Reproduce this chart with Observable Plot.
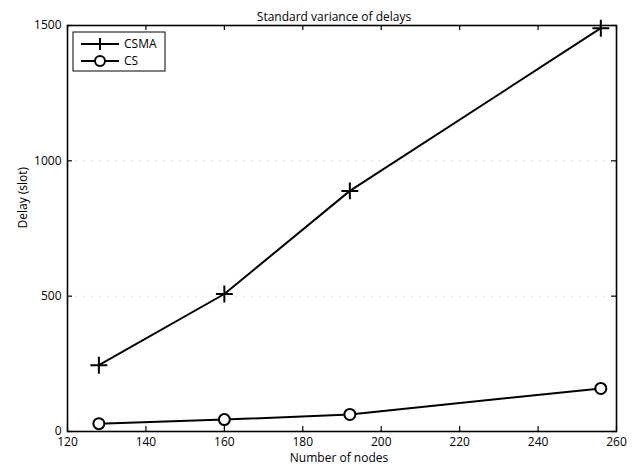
<!DOCTYPE html>
<html><head><meta charset="utf-8">
<script src="https://cdn.jsdelivr.net/npm/d3@7"></script>
<script src="https://cdn.jsdelivr.net/npm/@observablehq/plot@0.6"></script>
<style>body{margin:0;background:#fff;} svg{font-family:"Open Sans",sans-serif;}</style>
</head><body><div id="chart"></div>
<script>
const nodes = [128, 160, 192, 256];
const csma = [245, 508, 889, 1490];
const cs = [29, 44, 63, 159];
const xTicks = [120, 140, 160, 180, 200, 220, 240, 260];
const yTicks = [0, 500, 1000, 1500];
const seriesNames = ["CSMA", "CS"];

const data = [
  ...nodes.map((n, i) => ({x: n, y: csma[i], s: "CSMA"})),
  ...nodes.map((n, i) => ({x: n, y: cs[i], s: "CS"}))
];

const W = 639, H = 470, mL = 67, mR = 23, mT = 25, mB = 39;
const fw = W - mL - mR, fh = H - mT - mB;
const tl = 5;

const plot = Plot.plot({
  width: W, height: H,
  marginLeft: mL, marginRight: mR, marginTop: mT, marginBottom: mB,
  style: {fontFamily: "Open Sans, sans-serif", fontSize: "12px", color: "#000", background: "#fff"},
  x: {domain: [120, 260]},
  y: {domain: [0, 1500]},
  marks: [
    Plot.gridY([500, 1000], {stroke: "#888", strokeOpacity: 0.5, strokeDasharray: "1,7"}),
    Plot.axisX(xTicks, {anchor: "bottom", tickSize: 0, tickPadding: 6, tickFormat: d => String(d), label: null, fontSize: 12}),
    Plot.axisY(yTicks, {anchor: "left", tickSize: 0, tickPadding: 6, tickFormat: d => String(d), label: null, fontSize: 12}),
    Plot.tickX(xTicks, {x: d => d, insetTop: fh - tl, stroke: "#000", strokeWidth: 1.2}),
    Plot.tickX(xTicks, {x: d => d, insetBottom: fh - tl, stroke: "#000", strokeWidth: 1.2}),
    Plot.tickY(yTicks, {y: d => d, insetRight: fw - tl, stroke: "#000", strokeWidth: 1.2}),
    Plot.tickY(yTicks, {y: d => d, insetLeft: fw - tl, stroke: "#000", strokeWidth: 1.2}),
    Plot.frame({stroke: "#000", strokeWidth: 1.6}),
    Plot.line(data, {x: "x", y: "y", z: "s", stroke: "#000", strokeWidth: 2}),
    Plot.dot(data.filter(d => d.s === "CSMA"), {x: "x", y: "y", symbol: "plus", r: 5.5, stroke: "#000", strokeWidth: 2}),
    Plot.dot(data.filter(d => d.s === "CS"), {x: "x", y: "y", symbol: "circle", r: 5.5, stroke: "#000", fill: "#fff", strokeWidth: 2}),
    Plot.text(["Standard variance of delays"], {frameAnchor: "top", dx: -8, dy: -13, fontSize: 12}),
    Plot.text(["Number of nodes"], {frameAnchor: "bottom", dx: -3, dy: 30, fontSize: 12}),
    Plot.text(["Delay (slot)"], {frameAnchor: "left", dx: -44, rotate: -90, fontSize: 12})
  ]
});
document.getElementById("chart").appendChild(plot);

// legend
const svg = d3.select(plot);
const g = svg.append("g").attr("transform", "translate(73,32)");
g.append("rect").attr("width", 92).attr("height", 39).attr("fill", "#fff").attr("stroke", "#000").attr("stroke-width", 1);
seriesNames.forEach((name, i) => {
  const yy = 12 + i * 17;
  g.append("line").attr("x1", 8).attr("x2", 46).attr("y1", yy).attr("y2", yy).attr("stroke", "#000").attr("stroke-width", 2);
  if (name === "CSMA") {
    g.append("path").attr("d", `M27,${yy-6}V${yy+6}`).attr("stroke", "#000").attr("stroke-width", 2);
  } else {
    g.append("circle").attr("cx", 27).attr("cy", yy).attr("r", 5).attr("fill", "#fff").attr("stroke", "#000").attr("stroke-width", 2);
  }
  g.append("text").attr("x", 51).attr("y", yy).attr("dy", "0.35em").attr("text-anchor", "start").attr("font-size", 12).text(name);
});
</script></body></html>
